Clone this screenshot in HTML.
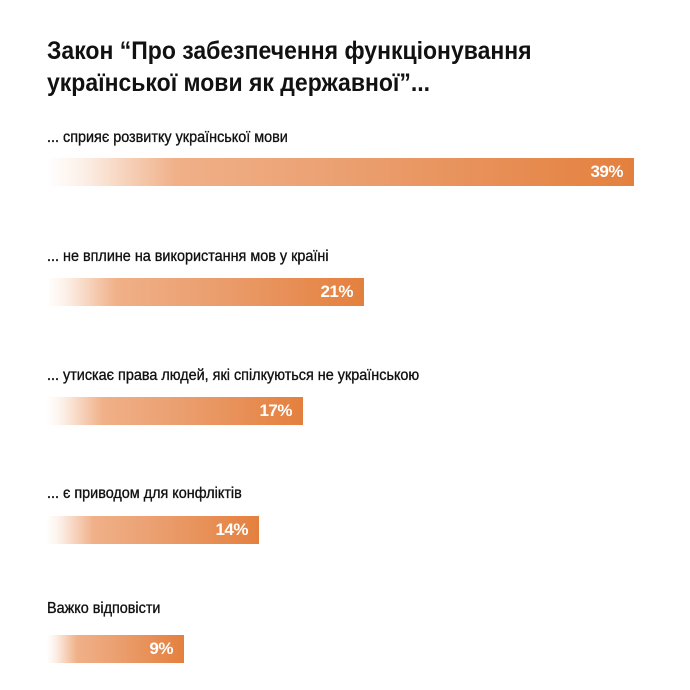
<!DOCTYPE html>
<html><head><meta charset="utf-8"><style>
body{margin:0;width:690px;height:690px;background:#fff;position:relative;overflow:hidden;font-family:"Liberation Sans","DejaVu Sans",sans-serif;color:#111}
.t{position:absolute;left:47px;font-weight:bold;font-size:25px;white-space:nowrap;transform-origin:0 0;transform:scaleX(0.92)}
.l{position:absolute;left:47px;font-size:16px;white-space:nowrap;transform-origin:0 0;transform:scaleX(0.9);-webkit-text-stroke:0.35px #111}
.b{position:absolute;left:47px;height:28px;background:linear-gradient(90deg,#fff 0%,#fcf0e8 6%,#f0b088 22%,#eba071 50%,#e4803e 100%)}
.b span{position:absolute;right:11px;top:4px;color:#fff;font-weight:bold;font-size:17px;letter-spacing:-0.5px}
</style></head><body>
<div class="t" style="top:37px">Закон “Про забезпечення функціонування</div>
<div class="t" style="top:69px">української мови як державної”...</div>

<div class="l" style="top:129px">... сприяє розвитку української мови</div>
<div class="b" style="top:158px;width:587px"><span>39%</span></div>

<div class="l" style="top:248px">... не вплине на використання мов у країні</div>
<div class="b" style="top:278px;width:317px"><span>21%</span></div>

<div class="l" style="top:367px">... утискає права людей, які спілкуються не українською</div>
<div class="b" style="top:397px;width:256px"><span>17%</span></div>

<div class="l" style="top:485px">... є приводом для конфліктів</div>
<div class="b" style="top:516px;width:212px"><span>14%</span></div>

<div class="l" style="top:600px">Важко відповісти</div>
<div class="b" style="top:635px;width:137px"><span>9%</span></div>
</body></html>
